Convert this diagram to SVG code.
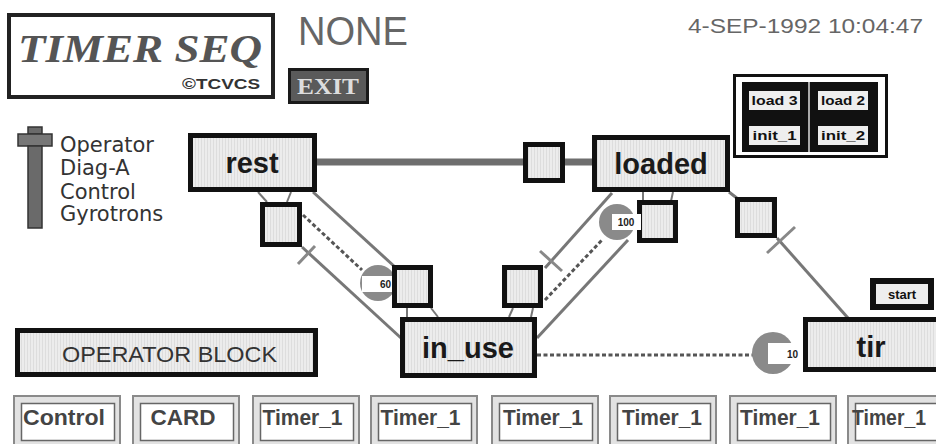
<svg xmlns="http://www.w3.org/2000/svg" width="936" height="444" viewBox="0 0 936 444">
  <defs>
    <pattern id="grain" width="3" height="10" patternUnits="userSpaceOnUse">
      <rect width="3" height="10" fill="#ececec"/>
      <rect width="1" height="10" fill="#dddddd"/>
    </pattern>
    <style>
      .node { fill: url(#grain); stroke: #111; stroke-width: 5; }
      .trans { fill: url(#grain); stroke: #111; stroke-width: 5; }
      .label { font-family: "Liberation Sans", Arial, sans-serif; font-weight: bold; font-size: 29px; fill: #1a1a1a; text-anchor: middle; }
      .wire { stroke: #777; stroke-width: 3; fill: none; }
      .stub { stroke: #777; stroke-width: 2; fill: none; }
      .dots { stroke: #555; stroke-width: 3; stroke-dasharray: 4 2.5; fill: none; }
      .tick { stroke: #888; stroke-width: 3; }
      .clock { fill: #8a8a8a; }
      .tag { fill: #ffffff; }
      .tagtxt { font-family: "Liberation Sans", Arial, sans-serif; font-weight: bold; font-size: 10px; fill: #222; }
      .btn-out { fill: #e2e2e2; stroke: #8a8a8a; stroke-width: 2; }
      .btn-in { fill: #ffffff; stroke: #666; stroke-width: 1.5; }
      .btntxt { font-family: "Liberation Sans", Arial, sans-serif; font-weight: bold; font-size: 22px; fill: #444; text-anchor: middle; }
      .legend { font-family: "DejaVu Sans", sans-serif; font-size: 21px; fill: #333; }
      .ld { fill: #eeeeee; }
      .ldtxt { font-family: "Liberation Sans", Arial, sans-serif; font-weight: bold; font-size: 12px; fill: #111; text-anchor: middle; }
    </style>
  </defs>

  <rect width="936" height="444" fill="#ffffff"/>

  <!-- title block -->
  <g id="logo">
    <rect x="9" y="15" width="264" height="82" fill="#fff" stroke="#222" stroke-width="4"/>
    <text x="18" y="62" font-family="Liberation Serif, Times New Roman, serif" font-weight="bold" font-style="italic" font-size="40" fill="#555" textLength="244" lengthAdjust="spacingAndGlyphs">TIMER SEQ</text>
    <text x="182" y="89" font-family="Liberation Sans, Arial, sans-serif" font-weight="bold" font-size="15" fill="#333" textLength="78" lengthAdjust="spacingAndGlyphs">©TCVCS</text>
  </g>

  <g id="mode">
    <text x="298" y="45" font-family="Liberation Sans, Arial, sans-serif" font-size="40" fill="#666" textLength="110" lengthAdjust="spacingAndGlyphs">NONE</text>
  </g>

  <g id="exit">
    <rect x="289.5" y="69.5" width="78" height="33" fill="#5a5a5a" stroke="#1a1a1a" stroke-width="3"/>
    <text x="297" y="94" font-family="Liberation Serif, Times New Roman, serif" font-weight="bold" font-size="24" fill="#ddd" textLength="62" lengthAdjust="spacingAndGlyphs">EXIT</text>
  </g>

  <g id="clock-time">
    <text x="688" y="33" font-family="Liberation Sans, Arial, sans-serif" font-size="21" fill="#666" textLength="235" lengthAdjust="spacingAndGlyphs">4-SEP-1992 10:04:47</text>
  </g>

  <!-- load / init selector -->
  <g id="load-panel">
    <rect x="734.5" y="75.5" width="152" height="81" fill="#fff" stroke="#111" stroke-width="3"/>
    <rect x="742" y="82" width="136" height="70" fill="#111"/>
    <line x1="809" y1="82" x2="809" y2="152" stroke="#aaa" stroke-width="2"/>
    <rect class="ld" x="749" y="91" width="51" height="19"/>
    <rect class="ld" x="818" y="91" width="50" height="19"/>
    <rect class="ld" x="749" y="126" width="51" height="19"/>
    <rect class="ld" x="818" y="126" width="50" height="19"/>
    <text class="ldtxt" x="774.5" y="105" textLength="46" lengthAdjust="spacingAndGlyphs">load 3</text>
    <text class="ldtxt" x="843" y="105" textLength="44" lengthAdjust="spacingAndGlyphs">load 2</text>
    <text class="ldtxt" x="774.5" y="140" textLength="44" lengthAdjust="spacingAndGlyphs">init_1</text>
    <text class="ldtxt" x="843" y="140" textLength="44" lengthAdjust="spacingAndGlyphs">init_2</text>
  </g>

  <!-- legend -->
  <g id="legend">
    <rect x="28" y="127" width="14" height="7" fill="#6a6a6a" stroke="#333" stroke-width="1.5"/>
    <rect x="18" y="134" width="34" height="12" fill="#777" stroke="#333" stroke-width="1.5"/>
    <rect x="28" y="146" width="14" height="82" fill="#6a6a6a" stroke="#333" stroke-width="1.5"/>
    <text class="legend" x="60" y="152">Operator</text>
    <text class="legend" x="60" y="175">Diag-A</text>
    <text class="legend" x="60" y="199">Control</text>
    <text class="legend" x="60" y="221">Gyrotrons</text>
  </g>

  <!-- connectors -->
  <g id="connectors">
    <line x1="317" y1="162" x2="592" y2="162" stroke="#6e6e6e" stroke-width="7"/>
    <!-- rest to its lower transition -->
    <line class="stub" x1="258" y1="192" x2="267" y2="202"/>
    <line class="stub" x1="291" y1="192" x2="287" y2="202"/>
    <!-- transition to in_use -->
    <line class="wire" x1="302" y1="247" x2="401" y2="338"/>
    <line class="tick" x1="298" y1="264" x2="315" y2="246"/>
    <!-- rest to in_use transition -->
    <line class="wire" x1="313" y1="192" x2="395" y2="267"/>
    <line class="dots" x1="303" y1="215" x2="362" y2="270"/>
    <!-- in_use stubs -->
    <line class="stub" x1="407" y1="308" x2="407" y2="317"/>
    <line class="stub" x1="431" y1="308" x2="438" y2="317"/>
    <line class="stub" x1="513" y1="308" x2="509" y2="317"/>
    <line class="stub" x1="533" y1="308" x2="531" y2="317"/>
    <!-- loaded to in_use transition -->
    <line class="wire" x1="612" y1="193" x2="545" y2="268"/>
    <line class="tick" x1="540" y1="251" x2="562" y2="271"/>
    <line class="dots" x1="545" y1="300" x2="602" y2="240"/>
    <line class="wire" x1="537" y1="338" x2="628" y2="240"/>
    <!-- loaded stubs -->
    <line class="stub" x1="643" y1="192" x2="643" y2="201"/>
    <line class="stub" x1="673" y1="192" x2="671" y2="201"/>
    <!-- loaded to tir -->
    <line class="wire" x1="729" y1="192" x2="738" y2="199"/>
    <line class="wire" x1="777" y1="238" x2="848" y2="318"/>
    <line class="tick" x1="767" y1="253" x2="795" y2="227"/>
    <!-- in_use to tir -->
    <line class="dots" x1="537" y1="355" x2="753" y2="355" stroke-dasharray="5 3"/>
  </g>

  <!-- timers -->
  <g id="timer-60">
    <circle class="clock" cx="378" cy="283" r="18"/>
    <rect class="tag" x="362" y="276" width="31" height="16"/>
    <text class="tagtxt" x="391" y="288" text-anchor="end" font-size="9">60</text>
  </g>
  <g id="timer-10">
    <circle class="clock" cx="773" cy="353" r="21"/>
    <rect class="tag" x="768" y="343" width="31" height="21"/>
    <text class="tagtxt" x="798" y="358" text-anchor="end">10</text>
  </g>

  <!-- states -->
  <g id="rest">
    <rect class="node" x="190.5" y="135.5" width="124" height="54"/>
    <text class="label" x="252" y="173">rest</text>
  </g>
  <g id="loaded">
    <rect class="node" x="594.5" y="137.5" width="133" height="52"/>
    <text class="label" x="661" y="174">loaded</text>
  </g>
  <g id="in_use">
    <rect class="node" x="402.5" y="319.5" width="132" height="56"/>
    <text class="label" x="468" y="358">in_use</text>
  </g>
  <g id="tir">
    <rect class="node" x="805.5" y="319.5" width="140" height="50"/>
    <text class="label" x="871" y="357">tir</text>
  </g>

  <!-- transitions -->
  <g id="t-rest-loaded"><rect class="trans" x="525.5" y="144.5" width="37" height="36"/></g>
  <g id="t-rest-down"><rect class="trans" x="262.5" y="204.5" width="37" height="40"/></g>
  <g id="t-inuse-left"><rect class="trans" x="394.5" y="267.5" width="36" height="38"/></g>
  <g id="t-inuse-right"><rect class="trans" x="504.5" y="267.5" width="36" height="38"/></g>
  <g id="t-loaded-down"><rect class="trans" x="639.5" y="202.5" width="36" height="38"/></g>
  <g id="t-loaded-tir"><rect class="trans" x="737.5" y="199.5" width="37" height="36"/></g>

  <g id="timer-100">
    <circle class="clock" cx="617" cy="222" r="18"/>
    <rect class="tag" x="612" y="214" width="29" height="16"/>
    <text class="tagtxt" x="626" y="226" text-anchor="middle" font-size="9">100</text>
  </g>

  <g id="start">
    <rect x="870" y="278" width="64" height="32" fill="#111"/>
    <rect x="876" y="284" width="52" height="20" fill="#eee"/>
    <text x="902" y="299" font-family="Liberation Sans, Arial, sans-serif" font-weight="bold" font-size="13" fill="#111" text-anchor="middle">start</text>
  </g>

  <g id="operator-block">
    <rect class="node" x="17.5" y="330.5" width="298" height="44"/>
    <text x="62" y="362" font-family="Liberation Sans, Arial, sans-serif" font-size="22" fill="#333" textLength="215" lengthAdjust="spacingAndGlyphs">OPERATOR BLOCK</text>
  </g>

  <!-- bottom button row -->
  <g id="btn-control">
    <rect class="btn-out" x="14" y="396" width="106" height="54"/>
    <rect class="btn-in" x="21.5" y="403.5" width="93" height="37"/>
    <text class="btntxt" x="64" y="425" textLength="82" lengthAdjust="spacingAndGlyphs">Control</text>
  </g>
  <g id="btn-card">
    <rect class="btn-out" x="133" y="396" width="106" height="54"/>
    <rect class="btn-in" x="140.5" y="403.5" width="93" height="37"/>
    <text class="btntxt" x="183" y="425" textLength="65" lengthAdjust="spacingAndGlyphs">CARD</text>
  </g>
  <g id="btn-timer-a">
    <rect class="btn-out" x="253" y="396" width="106" height="54"/>
    <rect class="btn-in" x="260.5" y="403.5" width="93" height="37"/>
    <text class="btntxt" x="302.5" y="425" textLength="80" lengthAdjust="spacingAndGlyphs">Timer_1</text>
  </g>
  <g id="btn-timer-b">
    <rect class="btn-out" x="371" y="396" width="106" height="54"/>
    <rect class="btn-in" x="378.5" y="403.5" width="93" height="37"/>
    <text class="btntxt" x="420.5" y="425" textLength="80" lengthAdjust="spacingAndGlyphs">Timer_1</text>
  </g>
  <g id="btn-timer-c">
    <rect class="btn-out" x="492" y="396" width="106" height="54"/>
    <rect class="btn-in" x="499.5" y="403.5" width="93" height="37"/>
    <text class="btntxt" x="543" y="425" textLength="80" lengthAdjust="spacingAndGlyphs">Timer_1</text>
  </g>
  <g id="btn-timer-d">
    <rect class="btn-out" x="610" y="396" width="106" height="54"/>
    <rect class="btn-in" x="617.5" y="403.5" width="93" height="37"/>
    <text class="btntxt" x="662" y="425" textLength="80" lengthAdjust="spacingAndGlyphs">Timer_1</text>
  </g>
  <g id="btn-timer-e">
    <rect class="btn-out" x="730" y="396" width="106" height="54"/>
    <rect class="btn-in" x="737.5" y="403.5" width="93" height="37"/>
    <text class="btntxt" x="780" y="425" textLength="80" lengthAdjust="spacingAndGlyphs">Timer_1</text>
  </g>
  <g id="btn-timer-f">
    <rect class="btn-out" x="848" y="396" width="106" height="54"/>
    <rect class="btn-in" x="855.5" y="403.5" width="93" height="37"/>
    <text class="btntxt" x="889" y="425" font-size="20" textLength="74" lengthAdjust="spacingAndGlyphs">Timer_1</text>
  </g>
</svg>
